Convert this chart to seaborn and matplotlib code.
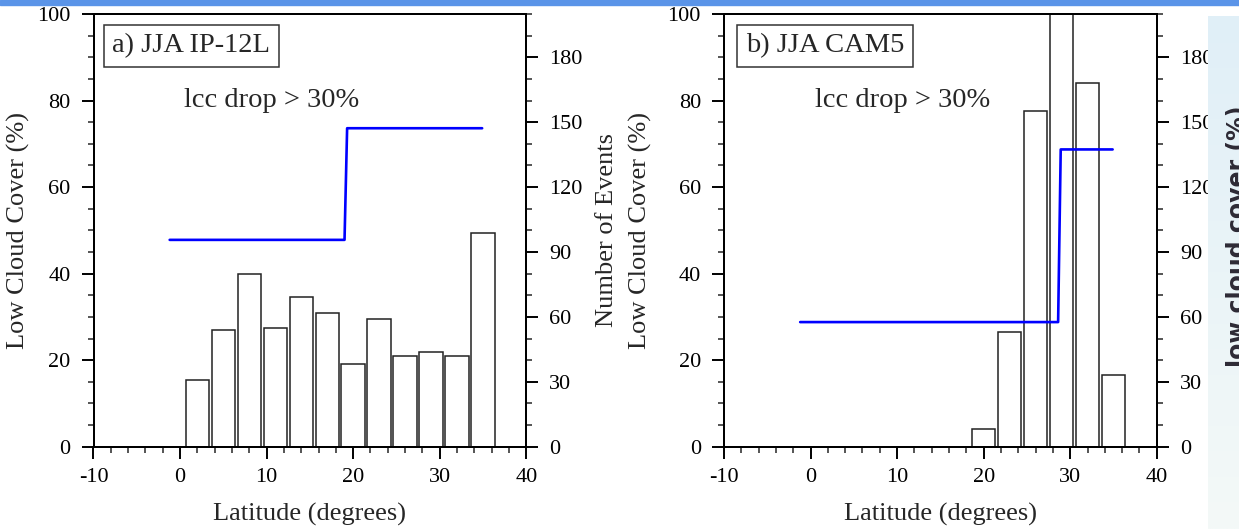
import numpy as np
import matplotlib.pyplot as plt
import seaborn as sns
from matplotlib.patches import Rectangle
from matplotlib.ticker import MultipleLocator

# latitude bin centres (degrees) and number of lcc-drop events
lat_ip = [2, 5, 8, 11, 14, 17, 20, 23, 26, 29, 32, 35]
events_ip = [31, 54, 80, 55, 69, 62, 38, 59, 42, 44, 42, 99]
lat_cam = [20, 23, 26, 29, 32, 35]
events_cam = [8, 53, 155, 230, 168, 33]

# low cloud cover (%) step line
lcc_lat_ip = [-1.2, 19.0, 19.3, 34.9]
lcc_ip = [47.8, 47.8, 73.6, 73.6]
lcc_lat_cam = [-1.2, 28.6, 28.9, 34.9]
lcc_cam = [28.8, 28.8, 68.7, 68.7]

panel_titles = ["a) JJA IP-12L", "b) JJA CAM5"]

sns.set_theme(style="ticks")
plt.rcParams['font.family'] = ['Liberation Serif', 'DejaVu Serif']
plt.rcParams['axes.unicode_minus'] = False

W, H = 1239, 529
fig = plt.figure(figsize=(W / 100, H / 100), dpi=100)

# axes rectangles in pixels
ax_w, ax_h = 432.8, 432.7
lefts = [93.5, 724.0]
top = 14.0

panels = [
    (lat_ip, events_ip, lcc_lat_ip, lcc_ip, 0.043, -0.174),
    (lat_cam, events_cam, lcc_lat_cam, lcc_cam, 0.050, -0.192),
]

for i, (lat, ev, llat, lcc, box_x, ylab_x) in enumerate(panels):
    ax = fig.add_axes([lefts[i] / W, (H - top - ax_h) / H, ax_w / W, ax_h / H])
    ax2 = ax.twinx()

    sns.barplot(x=lat, y=ev, native_scale=True, width=0.9, color="white",
                saturation=1, edgecolor="#222222", linewidth=1.1,
                errorbar=None, ax=ax2)
    sns.lineplot(x=llat, y=lcc, sort=False, estimator=None, color="#0000ff",
                 linewidth=1.9, ax=ax)

    # line axes on top of the bars
    ax.set_zorder(ax2.get_zorder() + 1)
    ax.patch.set_visible(False)

    ax.set_xlim(-10, 40)
    ax.set_xticks(range(-10, 41, 10))
    ax.xaxis.set_minor_locator(MultipleLocator(2))
    ax.set_ylim(0, 100)
    ax.set_yticks(range(0, 101, 20))
    ax.yaxis.set_minor_locator(MultipleLocator(5))
    ax2.set_ylim(0, 200)
    ax2.set_yticks(range(0, 181, 30))
    ax2.yaxis.set_minor_locator(MultipleLocator(10))

    for a in (ax, ax2):
        a.tick_params(which="major", direction="out", length=8.6, width=1.4,
                      labelsize=16, colors="black", pad=8)
        a.tick_params(which="minor", direction="out", length=4.3, width=1.1)
        for s in a.spines.values():
            s.set_linewidth(1.4)
            s.set_color("black")
    ax.tick_params(axis="x", pad=7)

    ax.set_xlabel("Latitude (degrees)", fontsize=19, labelpad=11)
    ax.set_ylabel("Low Cloud Cover (%)", fontsize=19, va="center")
    ax.yaxis.set_label_coords(ylab_x, 0.5)
    if i == 0:
        ax2.set_ylabel("Number of Events", fontsize=19, va="center")
        ax2.yaxis.set_label_coords(1.187, 0.5)
    else:
        ax2.set_ylabel("")

    ax.text(box_x, 0.955, panel_titles[i], transform=ax.transAxes,
            ha="left", va="top", fontsize=20.5,
            bbox=dict(boxstyle="square,pad=0.3", fc="white", ec="#333333", lw=1.1))
    ax.text(0.5, 78.5, "lcc drop > 30%", ha="left", va="baseline", fontsize=20.5)

# cropped neighbouring slide panel at the right edge
ov = fig.add_axes([1208 / W, 0, (W - 1208) / W, (H - 16) / H], zorder=10)
grad = np.linspace(0, 1, 200)[:, None, None]
c_top = np.array([224, 239, 247]) / 255
c_bot = np.array([244, 249, 248]) / 255
ov.imshow(c_top * (1 - grad) + c_bot * grad, aspect="auto", extent=[0, 1, 0, 1])
ov.axis("off")
fig.text(1245 / W, (H - 236) / H, "low cloud cover (%)", rotation=90,
         rotation_mode="anchor", ha="center", va="baseline", fontsize=17,
         fontweight="bold", family="DejaVu Sans", color="#2d2a35", zorder=11)

# slide header band
fig.patches.append(Rectangle((0, 1 - 5 / H), 1, 5 / H, transform=fig.transFigure,
                             color="#5a94e8", zorder=12))

fig.savefig("out.png", dpi=100)
